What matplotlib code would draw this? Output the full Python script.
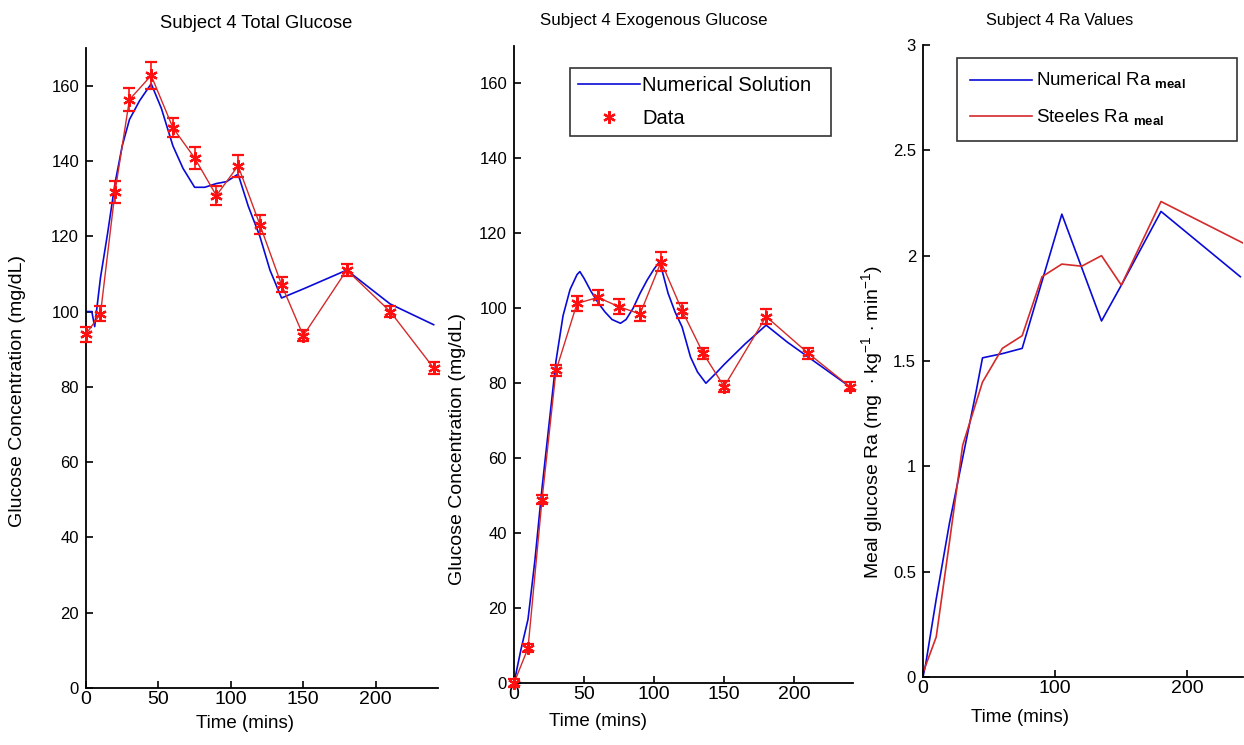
import matplotlib
matplotlib.use("Agg")
import matplotlib.pyplot as plt

plt.rcParams['font.family'] = ['Liberation Sans', 'DejaVu Sans']
plt.rcParams['mathtext.fontset'] = 'custom'
plt.rcParams['mathtext.rm'] = 'Liberation Sans'
plt.rcParams['mathtext.bf'] = 'Liberation Sans:bold'

# ---------------- data ----------------
t_data = [0, 10, 20, 30, 45, 60, 75, 90, 105, 120, 135, 150, 180, 210, 240]

total_data = [94, 99.4, 131.7, 156.3, 162.7, 148.8, 140.8, 130.8, 138.7, 123.1, 107.1, 93.6, 111, 100, 85]
total_err = [2, 2, 3, 3, 3.5, 2.5, 3, 2.5, 3, 2.5, 2, 1.5, 1.5, 1.5, 1.5]
t_total_model = [0, 4, 6, 10, 15, 20, 25, 30, 37, 45, 52, 60, 67, 75, 82, 90, 97, 105, 112, 120, 127, 135, 150, 180, 210, 240]
total_model = [100, 100, 96, 109, 121, 134, 144, 151, 156, 160.5, 154, 144, 138, 133, 133, 134, 134.5, 136.5, 128, 120, 111, 103.6, 106, 111, 102, 96.5]

exo_data = [0, 9.3, 48.9, 83.4, 101.3, 102.9, 100.4, 98.5, 112.4, 99.4, 88, 79.1, 97.8, 88, 79]
exo_err = [1, 1, 1.2, 1.5, 2, 2, 2, 2, 2.5, 2, 1.5, 1.5, 2, 1.5, 1.2]
t_exo_model = [0, 5, 10, 15, 20, 25, 30, 35, 40, 45, 47, 50, 55, 60, 65, 70, 76, 80, 85, 90, 95, 100, 104, 110, 115, 120, 126, 131, 137, 145, 150, 165, 180, 195, 210, 225, 240]
exo_model = [0, 9, 17, 33, 52, 69, 86, 98, 105, 109, 109.8, 108, 104.5, 101.5, 99, 97, 96, 97, 100, 104, 107.5, 110.5, 112.5, 104, 99, 95, 87, 83, 80, 83, 85, 90.5, 95.5, 91, 87, 83, 79]

t_ra_num = [0, 2, 10, 20, 30, 40, 45, 60, 75, 105, 135, 150, 180, 240]
ra_num = [0.0, 0.06, 0.37, 0.73, 1.04, 1.35, 1.515, 1.535, 1.56, 2.197, 1.69, 1.86, 2.21, 1.90]
t_ra_steele = [0, 10, 20, 30, 45, 60, 75, 90, 105, 120, 135, 150, 180, 242]
ra_steele = [0.02, 0.19, 0.64, 1.10, 1.40, 1.56, 1.62, 1.90, 1.96, 1.95, 2.00, 1.86, 2.257, 2.06]

titles = ["Subject 4 Total Glucose", "Subject 4 Exogenous Glucose", "Subject 4 Ra Values"]

# ---------------- figure ----------------
W, H = 1244, 745
fig = plt.figure(figsize=(W / 100, H / 100), dpi=100)


def axes_px(left, right, top, bottom):
    return fig.add_axes([left / W, 1 - bottom / H, (right - left) / W, (bottom - top) / H])


def fx(px):
    return px / W


def fy(py):
    return 1 - py / H


BLUE = '#0a0ad8'
RED_LINE = '#d42a2a'
RED = '#ff1010'
FS = 13.5

ast = (6, 2, 0)

ax1 = axes_px(86, 438, 48, 688)
ax2 = axes_px(514, 853, 46, 683)
ax3 = axes_px(923, 1243, 45, 677)

for ax in (ax1, ax2, ax3):
    for s in ('top', 'right'):
        ax.spines[s].set_visible(False)
    for s in ('left', 'bottom'):
        ax.spines[s].set_linewidth(1.3)
    ax.tick_params(direction='in', length=5, width=1.2)
    ax.tick_params(axis='x', labelsize=14, pad=2)
    ax.tick_params(axis='y', labelsize=12, pad=5)

eb_kw = dict(color=RED_LINE, ecolor=RED, lw=1.0, elinewidth=1.2, capsize=4, capthick=1.2,
             marker=ast, ms=9, mew=1.6, mec=RED, mfc=RED, zorder=3, clip_on=False)

# panel 1
ax1.plot(t_total_model, total_model, color=BLUE, lw=1.2, zorder=2)
ax1.errorbar(t_data, total_data, yerr=total_err, **eb_kw)
ax1.set_xlim(0, 243)
ax1.set_ylim(0, 170)
ax1.set_xticks([0, 50, 100, 150, 200])
ax1.set_yticks(range(0, 161, 20))

# panel 2
ax2.plot(t_exo_model, exo_model, color=BLUE, lw=1.2, zorder=2, label='Numerical Solution  ')
ax2.errorbar(t_data, exo_data, yerr=exo_err, **eb_kw)
ax2.plot([], [], ls='none', marker=ast, ms=9, mew=1.6, color=RED, label='Data')
ax2.set_xlim(0, 242)
ax2.set_ylim(0, 170)
ax2.set_xticks([0, 50, 100, 150, 200])
ax2.set_yticks(range(0, 161, 20))
h, l = ax2.get_legend_handles_labels()
leg2 = ax2.legend([h[0], h[-1]], [l[0], l[-1]], loc='upper left',
                  bbox_to_anchor=((570 - 514) / (853 - 514), 1 - (68 - 46) / (683 - 46)),
                  fontsize=14.5, frameon=True, fancybox=False, edgecolor='black',
                  borderpad=0.4, handlelength=3.1, handletextpad=0.1, labelspacing=0.7,
                  borderaxespad=0)
leg2.get_frame().set_linewidth(1.2)

# panel 3
ax3.plot(t_ra_num, ra_num, color=BLUE, lw=1.2, label='Numerical Ra $_{\\mathbf{meal}}$        ')
ax3.plot(t_ra_steele, ra_steele, color=RED_LINE, lw=1.2, label='Steeles Ra $_{\\mathbf{meal}}$')
ax3.set_xlim(0, 242)
ax3.set_ylim(0, 3)
ax3.set_xticks([0, 100, 200])
ax3.set_yticks([0, 0.5, 1, 1.5, 2, 2.5, 3])
ax3.set_yticklabels(['0', '0.5', '1', '1.5', '2', '2.5', '3'])
leg3 = ax3.legend(loc='upper left',
                  bbox_to_anchor=((957 - 923) / (1243 - 923), 1 - (58 - 45) / (677 - 45)),
                  fontsize=13.5, frameon=True, fancybox=False, edgecolor='black',
                  borderpad=0.7, handlelength=3.3, handletextpad=0.2, labelspacing=0.85,
                  borderaxespad=0)
leg3.get_frame().set_linewidth(1.2)

# titles and labels
title_pos = [(256, 23), (654, 20), (1060, 20)]
title_fs = [13.2, 12.2, 11.8]
for ax, ttl, (x, y), tfs in zip((ax1, ax2, ax3), titles, title_pos, title_fs):
    fig.text(fx(x), fy(y), ttl, ha='center', va='center', fontsize=tfs)

xlabel_pos = [(245, 724), (598, 722), (1020, 718)]
for ax, (x, y) in zip((ax1, ax2, ax3), xlabel_pos):
    ax.set_xlabel('Time (mins)', fontsize=FS)
    ax.xaxis.set_label_coords(fx(x), fy(y), transform=fig.transFigure)
    ax.xaxis.label.set_va('center')

ax1.set_ylabel('Glucose Concentration (mg/dL)', fontsize=14)
ax1.yaxis.set_label_coords(fx(18), fy(391), transform=fig.transFigure)
ax2.set_ylabel('Glucose Concentration (mg/dL)', fontsize=14)
ax2.yaxis.set_label_coords(fx(458), fy(449), transform=fig.transFigure)
ax3.set_ylabel('Meal glucose Ra (mg  $\\cdot$ kg$^{-1}$ $\\cdot$ min$^{-1}$)', fontsize=14)
ax3.yaxis.set_label_coords(fx(873), fy(422), transform=fig.transFigure)
for ax in (ax1, ax2, ax3):
    ax.yaxis.label.set_va('center')

fig.savefig('out.png', dpi=100)
